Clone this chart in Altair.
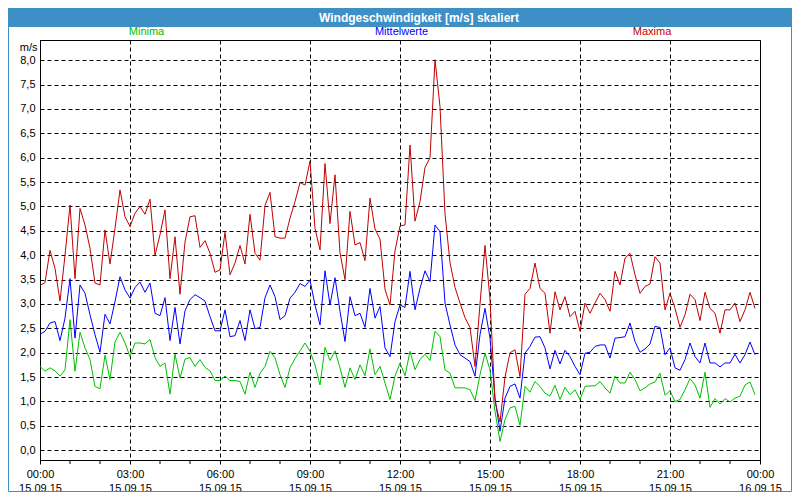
import altair as alt
import pandas as pd

# ---------------- data (10-minute steps) ----------------
maxima = [
    3.38, 3.44, 4.10, 3.73, 3.06, 4.00, 5.03, 3.52, 4.96, 4.62,
    4.14, 3.43, 3.39, 4.52, 3.82, 4.55, 5.34, 4.79, 4.59, 4.86,
    5.00, 4.84, 5.15, 4.00, 4.42, 4.93, 3.52, 4.38, 3.20, 4.27,
    4.79, 4.81, 4.16, 4.30, 4.04, 3.65, 3.70, 4.47, 3.60, 3.84,
    4.20, 3.82, 4.84, 4.04, 3.90, 5.02, 5.29, 4.38, 4.35, 4.35,
    4.76, 5.10, 5.49, 5.44, 5.93, 4.55, 4.11, 5.88, 4.65, 5.65,
    4.05, 3.50, 4.90, 4.21, 4.26, 3.89, 5.17, 4.54, 4.33, 3.30,
    2.98, 4.09, 4.60, 4.62, 6.26, 4.70, 5.10, 5.80, 6.00, 8.01,
    7.05, 4.85, 3.85, 3.34, 3.02, 2.72, 2.52, 1.72, 3.00, 4.20,
    3.10, 1.00, 0.58, 1.50, 2.00, 2.06, 1.51, 3.20, 3.32, 3.84,
    3.32, 3.22, 2.40, 3.25, 2.88, 3.15, 2.74, 2.85, 2.44, 3.02,
    2.81, 3.02, 3.22, 3.09, 2.85, 3.67, 3.39, 3.94, 4.04, 3.60,
    3.22, 3.36, 3.41, 3.97, 3.84, 2.88, 3.22, 2.91, 2.52, 2.78,
    3.20, 3.09, 2.66, 3.24, 2.91, 2.81, 2.40, 2.88, 2.88, 3.02,
    2.64, 2.88, 3.24, 2.91,
]
mittelwerte = [
    2.38, 2.44, 2.61, 2.64, 2.25, 2.71, 3.52, 2.30, 3.39, 3.22,
    2.78, 2.37, 2.01, 2.79, 2.59, 3.05, 3.56, 3.29, 3.12, 3.34,
    3.45, 3.24, 3.43, 2.81, 2.76, 3.13, 2.25, 2.93, 2.18, 2.86,
    3.09, 3.19, 3.13, 3.06, 2.74, 2.45, 2.45, 2.88, 2.33, 2.35,
    2.66, 2.25, 2.88, 2.49, 2.52, 3.13, 3.39, 3.15, 2.68, 2.76,
    3.12, 3.24, 3.42, 3.36, 3.49, 2.98, 2.57, 3.68, 2.98, 3.54,
    2.85, 2.23, 3.15, 2.76, 2.81, 2.52, 3.32, 2.71, 2.95, 2.10,
    1.92, 2.64, 2.98, 2.93, 3.67, 2.88, 3.32, 3.68, 3.46, 4.62,
    4.48, 3.02, 2.57, 2.16, 1.96, 1.89, 1.82, 1.52, 2.37, 2.91,
    2.30, 1.07, 0.39, 1.07, 1.31, 1.36, 1.07, 1.99, 2.13, 2.32,
    2.33, 2.10, 1.67, 2.05, 1.77, 2.05, 1.92, 1.72, 1.55, 1.99,
    2.01, 2.13, 2.16, 2.16, 1.89, 2.30, 2.31, 2.33, 2.61, 2.23,
    2.01, 2.08, 2.18, 2.54, 2.52, 1.96, 2.10, 1.69, 1.64, 1.86,
    2.20, 1.92, 1.79, 2.20, 1.79, 1.79, 1.71, 1.79, 1.79, 1.97,
    1.79, 1.96, 2.22, 1.96,
]
minima = [
    1.72, 1.62, 1.69, 1.63, 1.52, 1.65, 2.68, 1.62, 2.42, 2.10,
    1.86, 1.31, 1.26, 1.95, 1.45, 2.22, 2.42, 2.20, 1.92, 2.20,
    2.20, 2.18, 2.27, 1.90, 1.72, 1.79, 1.15, 1.97, 1.48, 1.87,
    1.90, 1.72, 1.86, 1.70, 1.63, 1.43, 1.43, 1.52, 1.43, 1.43,
    1.41, 1.15, 1.60, 1.29, 1.58, 1.72, 2.03, 1.90, 1.55, 1.29,
    1.69, 1.88, 2.04, 2.20, 2.03, 1.75, 1.34, 2.11, 1.84, 2.04,
    1.69, 1.29, 1.69, 1.45, 1.75, 1.53, 2.08, 1.55, 1.72, 1.38,
    1.04, 1.52, 1.79, 1.53, 2.03, 1.65, 1.86, 1.97, 1.84, 2.44,
    2.33, 1.65, 1.58, 1.28, 1.28, 1.28, 1.24, 1.02, 1.55, 1.99,
    1.65, 0.80, 0.18, 0.63, 0.87, 0.90, 0.51, 1.31, 1.19, 1.41,
    1.31, 1.17, 1.11, 1.33, 1.04, 1.29, 1.14, 1.24, 1.04, 1.31,
    1.32, 1.32, 1.41, 1.28, 1.17, 1.52, 1.38, 1.38, 1.60, 1.45,
    1.22, 1.28, 1.36, 1.40, 1.58, 1.13, 1.22, 1.00, 1.04, 1.24,
    1.47, 1.34, 1.07, 1.60, 0.88, 1.06, 0.95, 1.06, 0.99, 1.07,
    1.11, 1.34, 1.40, 1.14,
]
series_names = ["Minima", "Mittelwerte", "Maxima"]
series_colors = ["#00c000", "#0000ff", "#c00000"]
x_tick_hours = [0, 3, 6, 9, 12, 15, 18, 21, 24]
x_time_labels = ["00:00", "03:00", "06:00", "09:00", "12:00", "15:00", "18:00", "21:00", "00:00"]
x_date_labels = ["15.09.15"] * 8 + ["16.09.15"]
minor_hours = [h for h in range(25) if h % 3]
y_ticks = [i * 0.5 for i in range(17)]
title_text = "Windgeschwindigkeit [m/s] skaliert"
unit_label = "m/s"

assert len(maxima) == len(mittelwerte) == len(minima) == 144
hours = [k / 6 for k in range(144)]

FONT = "Liberation Sans"
BAR = "#3d8fc6"
W, H = 720, 420

x_scale = alt.Scale(domain=[0, 24], nice=False, zero=False)
y_scale = alt.Scale(domain=[-0.2, 8.415], nice=False, zero=False)

time_js = "[" + ",".join(f"'{t}'" for t in x_time_labels) + "]"
date_js = "[" + ",".join(f"'{d}'" for d in x_date_labels) + "]"
x_label_expr = f"[{time_js}[round(datum.value/3)], {date_js}[round(datum.value/3)]]"

x_axis = alt.Axis(
    values=x_tick_hours, labelExpr=x_label_expr, grid=True, gridDash=[4, 3],
    gridColor="black", gridOpacity=1, tickSize=4, tickColor="black",
    domainColor="black", labelFont=FONT, labelFontSize=11, labelColor="black",
    labelAlign="center", labelBaseline="top", labelPadding=4, labelLineHeight=14,
    labelFlush=False, labelOverlap=False, labelBound=False, title=None,
)
y_axis = alt.Axis(
    values=y_ticks, labelExpr="replace(format(datum.value, '.1f'), '.', ',')",
    grid=True, gridDash=[4, 3], gridColor="black", gridOpacity=1, tickSize=0,
    domainColor="black", labelPadding=5, labelFont=FONT, labelFontSize=11,
    labelColor="black", title=unit_label, titleAngle=0, titleAlign="right",
    titleBaseline="middle", titleX=-3, titleY=7, titleFont=FONT, titleFontSize=11,
    titleFontWeight="normal", titleColor="black",
)

one = pd.DataFrame({"a": [0]})

layers = []
# title bar and outer border
layers.append(alt.Chart(one).mark_rect(color=BAR).encode(
    x=alt.value(-32), x2=alt.value(752), y=alt.value(-32), y2=alt.value(-13)))
layers.append(alt.Chart(one).mark_text(
    font=FONT, fontSize=12, fontWeight="bold", color="white",
    align="center", baseline="middle").encode(
    x=alt.value(379), y=alt.value(-22.5), text=alt.value(title_text)))
layers.append(alt.Chart(one).mark_rect(filled=False, color=BAR, strokeWidth=1).encode(
    x=alt.value(-31.5), x2=alt.value(751.5), y=alt.value(-31.5), y2=alt.value(451.5)))

# the series lines
for name, vals, col in zip(series_names, [minima, mittelwerte, maxima], series_colors):
    df = pd.DataFrame({"h": hours, "v": vals})
    layers.append(alt.Chart(df).mark_line(color=col, strokeWidth=1).encode(
        x=alt.X("h:Q", scale=x_scale, axis=x_axis),
        y=alt.Y("v:Q", scale=y_scale, axis=y_axis),
    ))

# minor hourly ticks below the x axis
layers.append(alt.Chart(pd.DataFrame({"h": minor_hours})).mark_rule(
    color="black", strokeWidth=1).encode(
    x=alt.X("h:Q", scale=x_scale, title=None), y=alt.value(420), y2=alt.value(424)))

# series captions above the plot
legend_x = [106.5, 361.5, 612]
for name, col, lx in zip(series_names, series_colors, legend_x):
    layers.append(alt.Chart(one).mark_text(
        font=FONT, fontSize=11, color=col, align="center", baseline="middle").encode(
        x=alt.value(lx), y=alt.value(-8), text=alt.value(name)))

chart = alt.layer(*layers).properties(
    width=W, height=H,
    autosize=alt.AutoSizeParams(type="none"),
    padding={"left": 32, "top": 32, "right": 32, "bottom": 32},
    background="white",
).configure_view(stroke="black", strokeWidth=1)

chart.save("out.html", embed_options={"renderer": "svg", "actions": False})
